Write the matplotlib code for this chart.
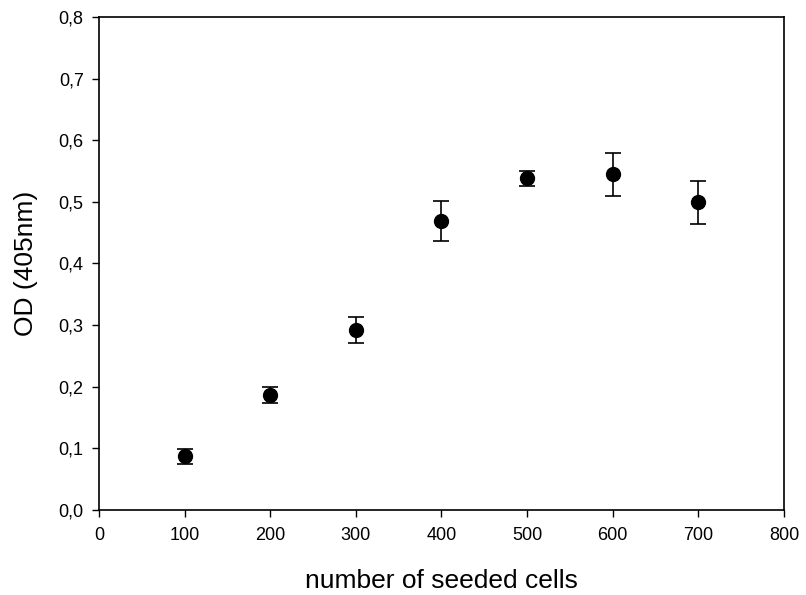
import matplotlib
matplotlib.use("Agg")
import matplotlib.pyplot as plt
from matplotlib.ticker import FuncFormatter

plt.rcParams["font.family"] = ["Liberation Sans", "DejaVu Sans"]

# data
cells = [100, 200, 300, 400, 500, 600, 700]
od = [0.087, 0.186, 0.292, 0.469, 0.538, 0.545, 0.499]
od_err = [0.012, 0.013, 0.021, 0.033, 0.012, 0.035, 0.035]

x_ticks = [0, 100, 200, 300, 400, 500, 600, 700, 800]
y_ticks = [0.0, 0.1, 0.2, 0.3, 0.4, 0.5, 0.6, 0.7, 0.8]

fig = plt.figure(figsize=(8.06, 5.95), dpi=100)
ax = fig.add_axes([0.1228, 0.1429, 0.8499, 0.8285])

ax.errorbar(cells, od, yerr=od_err, fmt="o", color="black", markersize=10,
            ecolor="black", elinewidth=1.2, capsize=6, capthick=1.2)

ax.set_xlim(0, 800)
ax.set_ylim(0, 0.8)
ax.set_xticks(x_ticks)
ax.set_yticks(y_ticks)
ax.yaxis.set_major_formatter(FuncFormatter(lambda v, p: f"{v:.1f}".replace(".", ",")))
ax.tick_params(direction="out", length=5, width=1, labelsize=13, top=False, right=False)
ax.tick_params(axis="x", pad=7)
ax.tick_params(axis="y", pad=6)

for s in ax.spines.values():
    s.set_linewidth(1.2)

ax.set_xlabel("number of seeded cells", fontsize=19, labelpad=18)
ax.set_ylabel("OD (405nm)", fontsize=19, labelpad=15)

fig.savefig("out.png", dpi=100)
